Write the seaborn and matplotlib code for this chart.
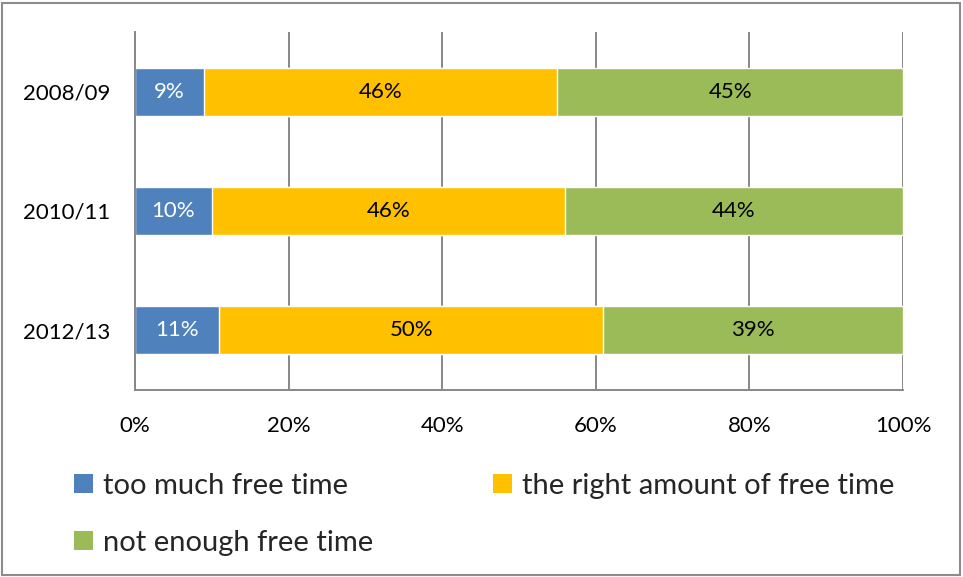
import matplotlib
matplotlib.use("Agg")
import matplotlib.pyplot as plt
from matplotlib.patches import Patch, Rectangle
import numpy as np
import pandas as pd
import seaborn as sns

# Survey waves and the share answering each option (percent)
years = ["2008/09", "2010/11", "2012/13"]
too_much = [9, 10, 11]
right_amount = [46, 46, 50]
not_enough = [45, 44, 39]

series_names = ["too much free time", "the right amount of free time", "not enough free time"]
series_colors = ["#4F81BD", "#FFC000", "#9BBB59"]
label_colors = ["white", "black", "black"]
x_ticks = [0, 20, 40, 60, 80, 100]
x_tick_labels = ["0%", "20%", "40%", "60%", "80%", "100%"]

sns.set_theme(style="white")
plt.rcParams["font.family"] = ["Lato", "DejaVu Sans"]

df = pd.DataFrame({"year": years, "a": too_much, "b": right_amount, "c": not_enough})
df["cum_a"] = df["a"]
df["cum_b"] = df["a"] + df["b"]
df["cum_c"] = df["a"] + df["b"] + df["c"]

fig = plt.figure(figsize=(9.63, 5.77), dpi=100)
ax = fig.add_axes([135 / 963, 1 - 390 / 577, 768 / 963, 358 / 577])

grid_color = "#878787"
ax.set_axisbelow(True)
ax.xaxis.grid(True, color=grid_color, linewidth=1.4)

# stacked bars: draw cumulative totals from the longest to the shortest
for col, color in zip(["cum_c", "cum_b", "cum_a"], series_colors[::-1]):
    sns.barplot(data=df, x=col, y="year", orient="h", color=color,
                width=0.40, saturation=1, ax=ax, zorder=2)

# value labels centred in each segment
seg_values = [too_much, right_amount, not_enough]
for i in range(len(years)):
    left = 0
    for s, vals in enumerate(seg_values):
        v = vals[i]
        ax.text(left + v / 2, i, f"{v}%", ha="center", va="center",
                color=label_colors[s], fontsize=16, zorder=3)
        left += v

ax.set_xlim(0, 100)
ax.set_ylim(2.5, -0.5)
ax.set_xlabel("")
ax.set_ylabel("")
ax.set_xticks(x_ticks)
ax.set_xticklabels(x_tick_labels, fontsize=16, color="black")

# category boundaries as major ticks, names as minor ticks
ax.set_yticks([-0.5, 0.5, 1.5, 2.5])
ax.set_yticklabels([])
ax.set_yticks(range(len(years)), minor=True)
ax.set_yticklabels(years, minor=True, fontsize=16, color="black")
ax.tick_params(axis="y", which="major", length=6, width=1.4, color=grid_color, direction="out")
ax.tick_params(axis="y", which="minor", length=0, pad=18)
ax.tick_params(axis="x", which="major", length=7, width=1.4, color=grid_color, direction="out", pad=12)

for side in ["top", "right"]:
    ax.spines[side].set_visible(False)
for side in ["left", "bottom"]:
    ax.spines[side].set_color(grid_color)
    ax.spines[side].set_linewidth(1.4)

# legend fills column by column: blue and green on the left, orange on the right
order = [0, 2, 1]
handles = [Patch(facecolor=series_colors[k], edgecolor="none") for k in order]
labels = [series_names[k] for k in order]
fig.legend(handles, labels, ncol=2, loc="upper left",
           bbox_to_anchor=(74 / 963, 1 - 473 / 577), frameon=False,
           fontsize=21, handlelength=0.65, handleheight=0.65,
           handletextpad=0.35, columnspacing=4.1, labelspacing=1.05,
           borderaxespad=0, borderpad=0)

# chart area outline
fig.patches.append(Rectangle((2 / 963, 2 / 577), 958 / 963, 572 / 577,
                             transform=fig.transFigure, fill=False,
                             edgecolor="#8C8C8C", linewidth=1.5))

fig.savefig("out.png", dpi=100)
